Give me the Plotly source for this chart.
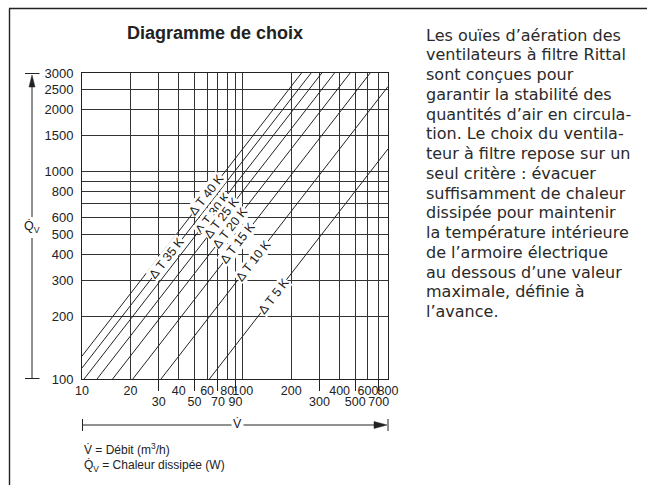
import math
import plotly.graph_objects as go

# Volumetric flow V̇ (m³/h): grid lines and the two rows of tick labels
x_grid = [10, 20, 30, 40, 50, 60, 70, 80, 90, 100, 200, 300, 400, 500, 600, 700, 800]
x_labels_upper = [10, 20, 40, 60, 80, 100, 200, 400, 600, 800]
x_labels_lower = [30, 50, 70, 90, 300, 500, 700]

# Heat loss Q̇v (W): grid lines and labelled ticks
y_grid = [100, 200, 300, 400, 500, 600, 700, 800, 900, 1000, 1500, 2000, 2500, 3000]
y_labels = [100, 200, 300, 400, 500, 600, 800, 1000, 1500, 2000, 2500, 3000]

# Temperature-difference lines (K): visible start and end points
delta_t = [40, 35, 30, 25, 20, 15, 10, 5]
v_start = [10, 10, 10.3, 12.4, 15.5, 20.7, 31, 62]
q_start = [129, 113, 100, 100, 100, 100, 100, 100]
v_end = [232, 266, 310, 372, 465, 620, 800, 800]
q_end = [3000, 3000, 3000, 3000, 3000, 3000, 2580, 1290]

# Where each ΔT label sits on its line
label_v = [59.6, 33.8, 65.3, 73.9, 83.2, 93.3, 115.7, 156.3]
label_q = [769, 382, 632, 596, 537, 451, 373, 252]

paragraph = [
    "Les ouïes d’aération des",
    "ventilateurs à filtre Rittal",
    "sont conçues pour",
    "garantir la stabilité des",
    "quantités d’air en circula-",
    "tion. Le choix du ventila-",
    "teur à filtre repose sur un",
    "seul critère : évacuer",
    "suffisamment de chaleur",
    "dissipée pour maintenir",
    "la température intérieure",
    "de l’armoire électrique",
    "au dessous d’une valeur",
    "maximale, définie à",
    "l’avance.",
]

W, H = 647, 485
ML, MR, MT, MB = 82, 259, 73, 106
PW, PH = W - ML - MR, H - MT - MB
INK = "#222222"
SANS = "Liberation Sans, Arial, sans-serif"


def px(x):
    return (x - ML) / PW


def py(y):
    return (H - MB - y) / PH


fig = go.Figure()

for dt, x0, y0, x1, y1 in zip(delta_t, v_start, q_start, v_end, q_end):
    fig.add_trace(go.Scatter(
        x=[x0, x1], y=[y0, y1], mode="lines", xaxis="x2", yaxis="y",
        line=dict(color=INK, width=1), hoverinfo="skip", showlegend=False,
        name=f"ΔT {dt} K",
    ))

annotations = []
for dt, v, q in zip(delta_t, label_v, label_q):
    annotations.append(dict(
        x=math.log10(v), y=math.log10(q), xref="x", yref="y",
        text=f"Δ T {dt} K", showarrow=False, textangle=-52,
        font=dict(family=SANS, size=12.5, color=INK),
        bgcolor="white", borderpad=0,
    ))

# Title
annotations.append(dict(
    x=px(215), y=py(33), xref="paper", yref="paper", text="<b>Diagramme de choix</b>",
    showarrow=False, xanchor="center", yanchor="middle",
    font=dict(family=SANS, size=18, color=INK),
))

# Axis quantity labels
annotations.append(dict(
    x=px(32), y=py(226.5), xref="paper", yref="paper", text="Q̇<sub>V</sub>",
    showarrow=False, xanchor="center", yanchor="middle",
    font=dict(family=SANS, size=12.5, color=INK),
))
annotations.append(dict(
    x=px(237.5), y=py(424), xref="paper", yref="paper", text="V̇",
    showarrow=False, xanchor="center", yanchor="middle",
    font=dict(family=SANS, size=12.5, color=INK),
))

# Symbol key under the chart
annotations.append(dict(
    x=px(82), y=py(449), xref="paper", yref="paper",
    text="V̇ = Débit (m<sup>3</sup>/h)", showarrow=False,
    xanchor="left", yanchor="middle", font=dict(family=SANS, size=12, color=INK),
))
annotations.append(dict(
    x=px(82), y=py(466.5), xref="paper", yref="paper",
    text="Q̇<sub>V</sub> = Chaleur dissipée (W)", showarrow=False,
    xanchor="left", yanchor="middle", font=dict(family=SANS, size=12, color=INK),
))

# Explanatory paragraph to the right
for i, line in enumerate(paragraph):
    annotations.append(dict(
        x=px(424), y=py(35 + 19.75 * i), xref="paper", yref="paper",
        text=line, showarrow=False, xanchor="left", yanchor="middle",
        font=dict(family="DejaVu Sans, sans-serif", size=16, color="#2a2a2a"),
    ))


def seg(x0, y0, x1, y1, width=1.0):
    return dict(type="line", xref="paper", yref="paper",
                x0=px(x0), y0=py(y0), x1=px(x1), y1=py(y1),
                line=dict(color=INK, width=width))


def tri(points):
    path = "M " + " L ".join(f"{px(a)},{py(b)}" for a, b in points) + " Z"
    return dict(type="path", xref="paper", yref="paper", path=path,
                fillcolor=INK, line=dict(color=INK, width=0.5))


shapes = [
    # page frame
    seg(9, 8.5, 647, 8.5, 1.4),
    seg(9.5, 8.5, 9.5, 485, 1.4),
    # vertical Q̇v arrow
    seg(25, 73.5, 39.5, 73.5),
    seg(25, 378.5, 39.5, 378.5),
    seg(32, 86, 32, 217),
    seg(32, 238, 32, 378.5),
    tri([(32, 75), (29, 87), (35, 87)]),
    # horizontal V̇ arrow
    seg(82.5, 419, 82.5, 431),
    seg(388, 419, 388, 431),
    seg(82.5, 425, 231.5, 425),
    seg(243.5, 425, 375, 425),
    tri([(387, 425), (374, 421.5), (374, 428.5)]),
]

fig.update_layout(
    width=W, height=H,
    margin=dict(l=ML, r=MR, t=MT, b=MB, pad=0),
    paper_bgcolor="white", plot_bgcolor="white",
    showlegend=False,
    annotations=annotations,
    shapes=shapes,
    xaxis=dict(
        type="log", range=[1, math.log10(800)],
        tickmode="array", tickvals=x_grid,
        ticktext=[str(v) if v in x_labels_upper else "" for v in x_grid],
        ticks="", tickangle=0, showgrid=True, gridcolor="#333333", gridwidth=1,
        showline=True, linecolor=INK, linewidth=1, mirror=True, zeroline=False,
        tickfont=dict(family=SANS, size=12.5, color=INK), ticklabelstandoff=0,
        fixedrange=True,
    ),
    xaxis2=dict(
        type="log", range=[1, math.log10(800)], overlaying="x", anchor="y", side="bottom",
        tickmode="array", tickvals=x_labels_lower,
        ticktext=[str(v) for v in x_labels_lower],
        ticks="outside", ticklen=11, tickwidth=1, tickcolor=INK, tickangle=0,
        showgrid=False, showline=False, zeroline=False,
        tickfont=dict(family=SANS, size=12.5, color=INK), ticklabelstandoff=0,
        fixedrange=True,
    ),
    yaxis=dict(
        type="log", range=[2, math.log10(3000)],
        tickmode="array", tickvals=y_grid,
        ticktext=[str(v) if v in y_labels else "" for v in y_grid],
        ticks="", showgrid=True, gridcolor="#333333", gridwidth=1,
        showline=True, linecolor=INK, linewidth=1, mirror=True, zeroline=False,
        tickfont=dict(family=SANS, size=13, color=INK), ticklabelstandoff=5,
        fixedrange=True,
    ),
)

fig.write_html("out.html", config={"displayModeBar": False})
